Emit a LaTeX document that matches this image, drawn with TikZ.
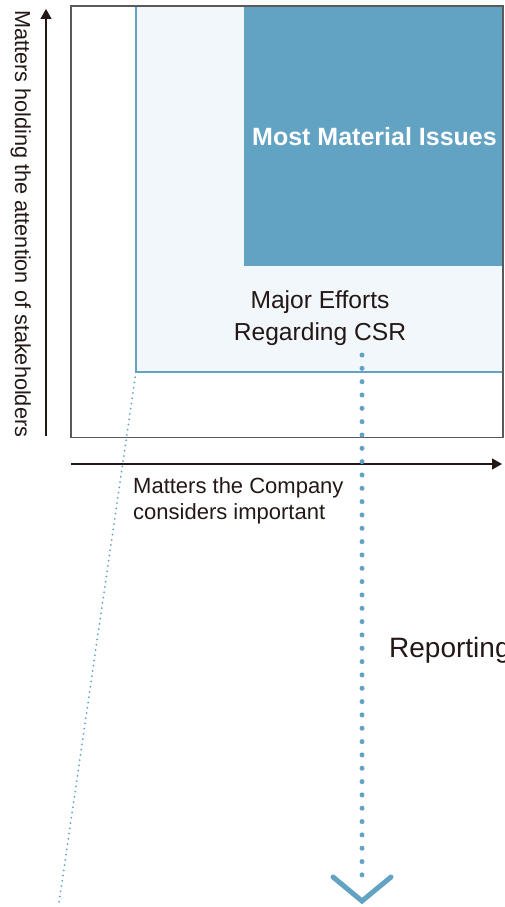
\documentclass[tikz,border=0pt]{standalone}
\usepackage{fontspec}
\setmainfont{Liberation Sans}
\usetikzlibrary{arrows.meta,positioning}
\definecolor{ink}{HTML}{231815}
\definecolor{csrblue}{HTML}{62A2C3}
\definecolor{csrpale}{HTML}{F2F7FB}
\definecolor{frame}{HTML}{5A5A5A}

\begin{document}
\begin{tikzpicture}[x=1pt,y=-1pt,
every node/.style={inner sep=0pt,text=ink},
axis/.style={ink,line width=1.2pt,-{Triangle[length=10pt,width=11pt]}}]
\useasboundingbox (0,0) rectangle (504,907);
% matrix areas
\fill[csrpale] (136,6) rectangle (504,372);
\fill[csrblue] (244,6) rectangle (504,266);
\draw[csrblue,line width=2pt] (136,6) -- (136,372) -- (504,372);
\draw[frame,line width=1.2pt] (71,6) rectangle (503,437.5);
% axes
\coordinate (Y0) at (46,436);
\coordinate (Y1) at (46,9);
\coordinate (X0) at (71,464);
\coordinate (X1) at (502,464);
\draw[axis] (Y0)--(Y1);
\draw[axis] (X0)--(X1);
\node[rotate=-90,anchor=base west,font=\fontsize{21.7}{26}\selectfont] (ylab) at (15,10) {Matters holding the attention of stakeholders};
\node[anchor=north west,align=left,font=\fontsize{22}{26}\selectfont] (xlab) at (133,477) {Matters the Company\\considers important};
% labels inside
\node[anchor=base,text=white,font=\fontsize{25}{30}\selectfont\bfseries] (most) at (374.5,145) {Most Material Issues};
\node[anchor=north,align=center,font=\fontsize{24.6}{32.4}\selectfont] (major) at (320,290) {Major Efforts\\Regarding CSR};
% reporting
\coordinate (R0) at (362,355);
\coordinate (R1) at (362,888);
\coordinate (Rtip) at (362,901);
\draw[csrblue,line width=5pt,line cap=round,dash pattern=on 0pt off 13.33pt] (R0)--(R1);
\draw[csrblue,line width=5pt,line cap=round] (333,877) -- (Rtip) -- (391,877);
\node[anchor=base west,font=\fontsize{28}{32}\selectfont] (rep) at (389,657) {Reporting};
\coordinate (C0) at (136,372);
\coordinate (C1) at (59,903);
\draw[csrblue,line width=2pt,line cap=round,dash pattern=on 0pt off 5.3pt] (C0)--(C1);
\end{tikzpicture}
\end{document}
